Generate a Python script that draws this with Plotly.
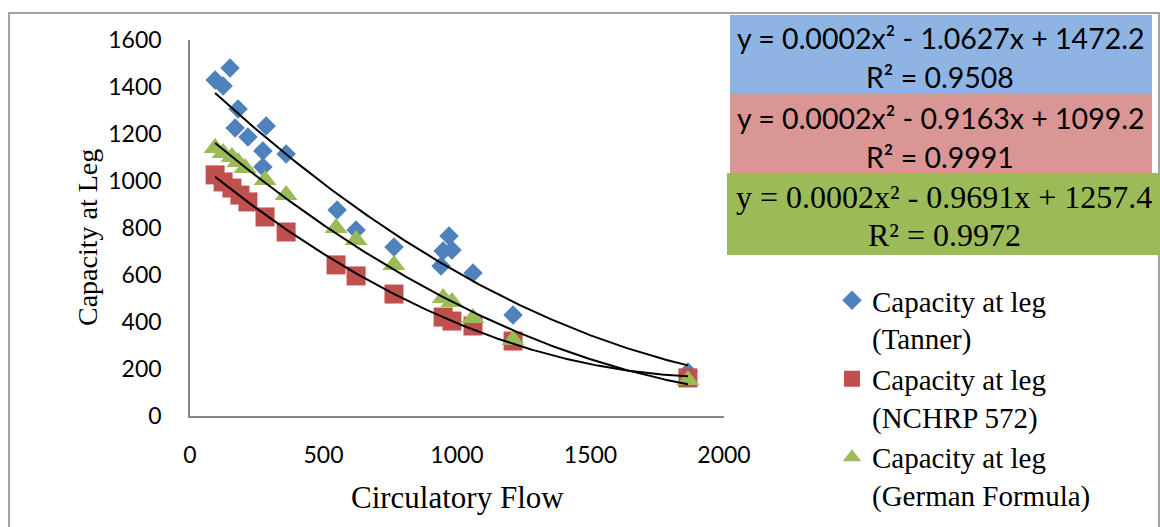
import numpy as np
import plotly.graph_objects as go

# ---------------- data ----------------
tanner_x = [94, 124, 150, 180, 169, 217, 273, 273, 285, 360, 551, 622, 764, 940, 948, 970, 981, 1060, 1210, 1865]
tanner_y = [1430, 1404, 1481, 1306, 1226, 1187, 1128, 1060, 1234, 1115, 877, 791, 719, 638, 702, 766, 706, 609, 430, 187]

nchrp_x = [94, 124, 157, 187, 217, 281, 360, 547, 622, 764, 948, 981, 1060, 1210, 1865]
nchrp_y = [1026, 996, 970, 940, 911, 847, 783, 643, 596, 519, 421, 404, 383, 319, 162]

german_x = [94, 124, 157, 180, 206, 281, 360, 547, 622, 764, 948, 981, 1060, 1210, 1865]
german_y = [1140, 1119, 1102, 1081, 1055, 1004, 940, 800, 749, 643, 502, 485, 417, 323, 153]

series_names = ["Capacity at leg<br>(Tanner)", "Capacity at leg<br>(NCHRP 572)", "Capacity at leg<br>(German Formula)"]
equations = [
    ("y = 0.0002x² - 1.0627x + 1472.2", "R² = 0.9508"),
    ("y = 0.0002x² - 0.9163x + 1099.2", "R² = 0.9991"),
    ("y = 0.0002x² - 0.9691x + 1257.4", "R² = 0.9972"),
]
x_ticks = [0, 500, 1000, 1500, 2000]
y_ticks = [0, 200, 400, 600, 800, 1000, 1200, 1400, 1600]
x_title = "Circulatory Flow"
y_title = "Capacity at Leg"

# ---------------- layout helpers ----------------
W, H = 1160, 527
L, R, T, B = 190, 724, 40, 416  # plot area in pixels


def px(xp):
    return (xp - L) / (R - L)


def py(yp):
    return (B - yp) / (B - T)


BLUE, RED, GREEN = "#4F81BD", "#C0504D", "#9BBB59"
sans = "Lato, 'Open Sans', sans-serif"
serif = "'Liberation Serif', 'Times New Roman', serif"

fig = go.Figure()

specs = [
    (tanner_x, tanner_y, BLUE, "diamond", 15),
    (nchrp_x, nchrp_y, RED, "square", 19),
    (german_x, german_y, GREEN, "triangle-up", 20),
]

for (xs, ys, col, sym, sz), name in zip(specs, series_names):
    fig.add_trace(go.Scatter(
        x=xs, y=ys, mode="markers", name=name,
        marker=dict(color=col, symbol=sym, size=sz, line=dict(width=0)),
    ))

# polynomial (order 2) trendlines computed from the data
for xs, ys, col, sym, sz in specs:
    c = np.polyfit(xs, ys, 2)
    xx = np.linspace(min(xs), max(xs), 200)
    fig.add_trace(go.Scatter(
        x=xx, y=np.polyval(c, xx), mode="lines", showlegend=False,
        line=dict(color="black", width=2), hoverinfo="skip",
    ))

shapes = [
    # outer chart border
    dict(type="rect", xref="paper", yref="paper",
         x0=px(9), x1=px(1159), y0=py(540), y1=py(13),
         line=dict(color="#868686", width=1.5), fillcolor="rgba(0,0,0,0)", layer="below"),
    # equation boxes
    dict(type="rect", xref="paper", yref="paper", x0=px(730), x1=px(1152), y0=py(93), y1=py(15),
         fillcolor="#8DB4E2", line=dict(width=0)),
    dict(type="rect", xref="paper", yref="paper", x0=px(730), x1=px(1152), y0=py(173), y1=py(93),
         fillcolor="#DA9694", line=dict(width=0)),
    dict(type="rect", xref="paper", yref="paper", x0=px(727), x1=px(1160), y0=py(255), y1=py(173),
         fillcolor="#9BBB59", line=dict(width=0)),
]

annotations = []
eq_pos = [(940, 38, 77, sans, 28.5), (940, 118, 157, sans, 28.5), (944, 197, 235, serif, 32)]
for (l1, l2), (cx, y1, y2, fnt, fs) in zip(equations, eq_pos):
    annotations.append(dict(x=px(cx), y=py(y1), xref="paper", yref="paper", text=l1, showarrow=False,
                            font=dict(family=fnt, size=fs, color="black"), xanchor="center", yanchor="middle"))
    annotations.append(dict(x=px(cx), y=py(y2), xref="paper", yref="paper", text=l2, showarrow=False,
                            font=dict(family=fnt, size=fs, color="black"), xanchor="center", yanchor="middle"))

# axis titles
annotations.append(dict(x=px(457), y=py(497), xref="paper", yref="paper", text=x_title, showarrow=False,
                        font=dict(family=serif, size=31, color="black"), xanchor="center", yanchor="middle"))
annotations.append(dict(x=px(87), y=py(238), xref="paper", yref="paper", text=y_title, showarrow=False,
                        textangle=-90,
                        font=dict(family=serif, size=28, color="black"), xanchor="center", yanchor="middle"))

fig.update_layout(
    width=W, height=H,
    margin=dict(l=L, r=W - R, t=T, b=H - B, pad=0, autoexpand=False),
    paper_bgcolor="white", plot_bgcolor="white",
    showlegend=True,
    legend=dict(x=px(832), y=py(275), xanchor="left", yanchor="top", valign="top",
                font=dict(family=serif, size=29, color="black"),
                bgcolor="rgba(0,0,0,0)", tracegroupgap=0),
    xaxis=dict(range=[0, 2000], tickvals=x_ticks, showgrid=False, zeroline=False,
               showline=True, linecolor="#868686", linewidth=1.5, ticks="",
               tickfont=dict(family=sans, size=23, color="black"), ticklabelstandoff=18),
    yaxis=dict(range=[0, 1600], tickvals=y_ticks, showgrid=False, zeroline=False,
               showline=True, linecolor="#868686", linewidth=1.5, ticks="",
               tickfont=dict(family=sans, size=23, color="black"), ticklabelstandoff=22),
    shapes=shapes,
    annotations=annotations,
)

fig.write_html("out.html")
